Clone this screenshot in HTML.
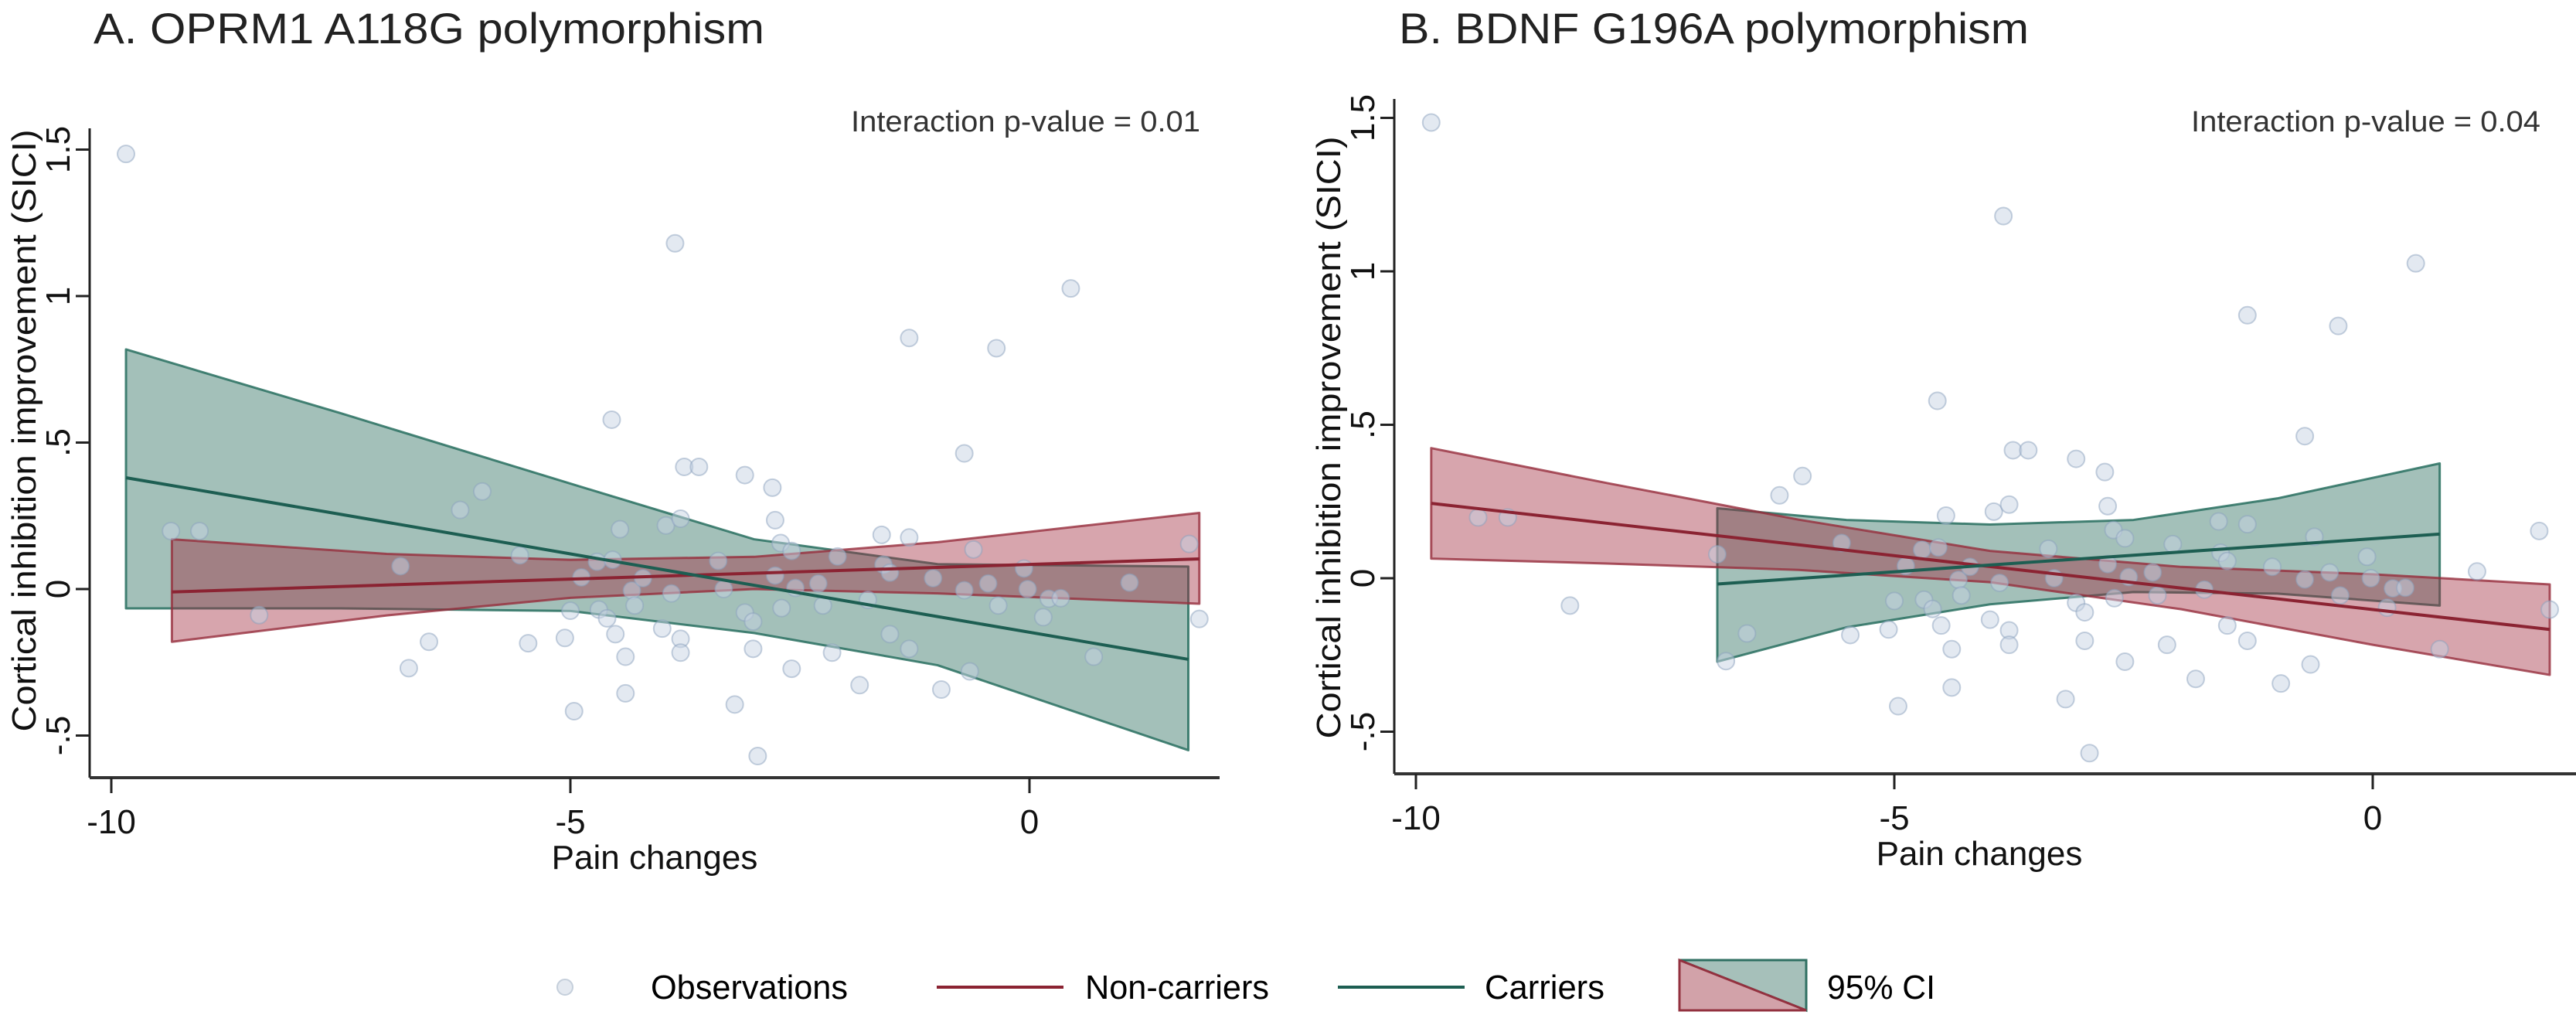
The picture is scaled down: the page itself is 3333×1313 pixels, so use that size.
<!DOCTYPE html>
<html><head><meta charset="utf-8"><style>
html,body{margin:0;padding:0;background:#fff;}
svg{display:block;font-family:"Liberation Sans",sans-serif;}
</style></head><body>
<svg id="chart" width="3333" height="1313" viewBox="0 0 3333 1313" xmlns="http://www.w3.org/2000/svg">
<rect width="3333" height="1313" fill="#fff"/>
<g id="panelA"></g>
<g id="panelB"></g>
<g id="legend">
  <g>
    <circle cx="731" cy="1277" r="10" fill="#e4e9f0" stroke="#c5cfdb" stroke-width="2"/>
    <text x="842" y="1292" font-size="44" textLength="255" lengthAdjust="spacingAndGlyphs">Observations</text>
  </g>
  <g>
    <line x1="1212" y1="1277" x2="1376" y2="1277" stroke="#8b2332" stroke-width="4"/>
    <text x="1404" y="1292" font-size="44" textLength="238" lengthAdjust="spacingAndGlyphs">Non-carriers</text>
  </g>
  <g>
    <line x1="1731" y1="1277" x2="1895" y2="1277" stroke="#1d5e52" stroke-width="4"/>
    <text x="1921" y="1292" font-size="44" textLength="155" lengthAdjust="spacingAndGlyphs">Carriers</text>
  </g>
  <g>
    <polygon points="2173,1242 2337,1242 2337,1307" fill="#a6c0ba" stroke="#2f6f62" stroke-width="3"/>
    <polygon points="2173,1242 2337,1307 2173,1307" fill="#d2a2a9" stroke="#93313f" stroke-width="3"/>
    <text x="2364" y="1292" font-size="44" textLength="140" lengthAdjust="spacingAndGlyphs">95% CI</text>
  </g>
</g>
</svg>
<script>
// Shared observations (pain change, SICI improvement)
const obsX = [-9.84,-9.35,-9.04,-8.39,-6.85,-6.76,-6.54,-6.2,-5.96,-5.55,-5.46,-5.06,-5.0,-4.96,-4.88,-4.71,-4.69,-4.6,-4.55,-4.54,-4.51,-4.46,-4.4,-4.4,-4.33,-4.3,-4.21,-4.0,-3.96,-3.9,-3.86,-3.8,-3.8,-3.8,-3.76,-3.6,-3.39,-3.33,-3.21,-3.1,-3.1,-3.01,-3.01,-2.96,-2.8,-2.77,-2.77,-2.71,-2.7,-2.59,-2.59,-2.55,-2.3,-2.25,-2.15,-2.09,-1.85,-1.76,-1.61,-1.59,-1.52,-1.52,-1.31,-1.31,-1.31,-1.05,-0.96,-0.71,-0.71,-0.65,-0.61,-0.45,-0.36,-0.34,-0.06,-0.02,0.15,0.21,0.34,0.45,0.7,1.09,1.74,1.85];
const obsY = [1.485,0.198,0.198,-0.089,0.078,-0.27,-0.18,0.27,0.333,0.115,-0.185,-0.167,-0.074,-0.417,0.04,0.093,-0.07,-0.10,0.578,0.10,-0.154,0.204,-0.231,-0.356,-0.005,-0.056,0.037,-0.135,0.217,-0.015,1.18,0.24,-0.17,-0.217,0.417,0.417,0.096,0,-0.394,0.389,-0.08,-0.111,-0.204,-0.57,0.346,0.235,0.046,0.157,-0.065,-0.272,0.13,0.004,0.019,-0.056,-0.217,0.111,-0.328,-0.037,0.185,0.083,0.056,-0.154,0.176,0.857,-0.204,0.037,-0.343,-0.004,0.463,-0.281,0.135,0.019,0.822,-0.056,0.07,0,-0.096,-0.033,-0.031,1.026,-0.231,0.022,0.154,-0.102];

// Panel A fits
const aRedX = [-9.34,-7,-5,-3,-1,1.85];
const aRedFit = [-0.01,0.014,0.034,0.054,0.074,0.103];
const aRedUp = [0.17,0.12,0.10,0.11,0.16,0.26];
const aRedLo = [-0.18,-0.09,-0.03,0.0,-0.015,-0.05];
const aGrnX = [-9.84,-7.5,-5,-3,-1,1.73];
const aGrnFit = [0.38,0.255,0.12,0.013,-0.094,-0.24];
const aGrnUp = [0.818,0.60,0.36,0.17,0.085,0.077];
const aGrnLo = [-0.066,-0.066,-0.075,-0.15,-0.26,-0.55];

// Panel B fits
const bRedX = [-9.84,-8,-6,-4,-2,0,1.85];
const bRedFit = [0.244,0.179,0.109,0.038,-0.032,-0.102,-0.167];
const bRedUp = [0.424,0.31,0.191,0.089,0.037,0.013,-0.02];
const bRedLo = [0.064,0.048,0.027,-0.013,-0.101,-0.217,-0.315];
const bGrnX = [-6.85,-5.5,-4,-2.5,-1,0.7];
const bGrnFit = [-0.019,0.01,0.043,0.075,0.107,0.144];
const bGrnUp = [0.228,0.19,0.175,0.19,0.26,0.374];
const bGrnLo = [-0.272,-0.16,-0.085,-0.045,-0.05,-0.089];

const xTicks = [-10,-5,0];
const xTickLabels = ["-10","-5","0"];
const yTicks = [-0.5,0,0.5,1,1.5];
const yTickLabels = ["-.5","0",".5","1","1.5"];

const NS = "http://www.w3.org/2000/svg";
function mk(tag, attrs, parent){
  const e = document.createElementNS(NS, tag);
  for (const k in attrs) e.setAttribute(k, attrs[k]);
  parent.appendChild(e);
  return e;
}

function drawPanel(g, cfg){
  const sx = v => cfg.x0 + (v + 10) * cfg.ux;
  const sy = v => cfg.y0 - v * cfg.uy;

  const title = mk('text', {x: cfg.titleX, y: 56, 'font-size': 56, textLength: cfg.titleLen, lengthAdjust: 'spacingAndGlyphs', fill: '#222'}, g);
  title.textContent = cfg.title;
  
  

  const pv = mk('text', {x: cfg.pvRight, y: 170, 'font-size': 38, 'text-anchor': 'end', textLength: 452, lengthAdjust: 'spacingAndGlyphs', fill: '#333'}, g);
  pv.textContent = cfg.pvalue;
  
  

  function band(xs, up, lo, fill, stroke, name){
    let pts = xs.map((x,i)=>sx(x)+','+sy(up[i]));
    for (let i = xs.length-1; i >= 0; i--) pts.push(sx(xs[i])+','+sy(lo[i]));
    const p = mk('polygon', {points: pts.join(' '), fill: fill, stroke: stroke, 'stroke-width': 3, 'stroke-linejoin': 'round'}, g);
    
    
  }
  function line(xs, ys, color, name){
    const p = mk('polyline', {points: xs.map((x,i)=>sx(x)+','+sy(ys[i])).join(' '), fill: 'none', stroke: color, 'stroke-width': 4}, g);
    
    
  }
  band(cfg.gx, cfg.gu, cfg.gl, 'rgba(50,115,100,0.45)', 'rgba(40,110,95,0.85)', 'carriers-ci-band');
  band(cfg.rx, cfg.ru, cfg.rl, 'rgba(160,40,60,0.42)', 'rgba(150,45,60,0.8)', 'non-carriers-ci-band');

  const pg = mk('g', {}, g);
  
  
  obsX.forEach((x,i)=>{
    const c = mk('circle', {cx: sx(x), cy: sy(obsY[i]), r: 11, fill: 'rgba(200,212,228,0.5)', stroke: 'rgba(140,162,190,0.5)', 'stroke-width': 2}, pg);
    
    
  });

  line(cfg.rx, cfg.rf, '#8b2332', 'non-carriers-fit-line');
  line(cfg.gx, cfg.gf, '#1d5e52', 'carriers-fit-line');

  const ya = mk('line', {x1: cfg.axX, y1: cfg.axTop, x2: cfg.axX, y2: cfg.axBot, stroke: '#222', 'stroke-width': 3}, g);
  
  
  const xa = mk('line', {x1: cfg.axX, y1: cfg.axBot, x2: cfg.axRight, y2: cfg.axBot, stroke: '#333', 'stroke-width': 4}, g);
  
  

  yTicks.forEach((v,i)=>{
    const y = sy(v);
    const t = mk('line', {x1: cfg.axX-18, y1: y, x2: cfg.axX, y2: y, stroke: '#222', 'stroke-width': 3}, g);
    
    
    const lx = cfg.axX - 26;
    const l = mk('text', {x: lx, y: y, 'font-size': 44, 'text-anchor': 'middle', transform: 'rotate(-90 '+lx+' '+y+')', fill: '#111'}, g);
    l.textContent = yTickLabels[i];
    
    
  });
  xTicks.forEach((v,i)=>{
    const x = sx(v);
    const t = mk('line', {x1: x, y1: cfg.axBot, x2: x, y2: cfg.axBot+20, stroke: '#222', 'stroke-width': 3}, g);
    
    
    const l = mk('text', {x: x, y: cfg.axBot+72, 'font-size': 44, 'text-anchor': 'middle', fill: '#111'}, g);
    l.textContent = xTickLabels[i];
    
    
  });

  const xt = mk('text', {x: cfg.xTitleX, y: cfg.axBot+118, 'font-size': 44, 'text-anchor': 'middle', fill: '#111'}, g);
  xt.textContent = 'Pain changes';
  
  
  const yx = cfg.axX - 70, yy = cfg.yTitleY;
  const yt = mk('text', {x: yx, y: yy, 'font-size': 44, 'text-anchor': 'middle', textLength: 779, lengthAdjust: 'spacingAndGlyphs', transform: 'rotate(-90 '+yx+' '+yy+')', fill: '#111'}, g);
  yt.textContent = 'Cortical inhibition improvement (SICI)';
  
  
}

drawPanel(document.getElementById('panelA'), {
  x0: 144, ux: 118.8, y0: 762, uy: 379,
  axX: 116, axTop: 166, axBot: 1006, axRight: 1578,
  title: 'A. OPRM1 A118G polymorphism', titleX: 121, titleLen: 868,
  pvalue: 'Interaction p-value = 0.01', pvRight: 1553,
  xTitleX: 847, yTitleY: 557,
  rx: aRedX, rf: aRedFit, ru: aRedUp, rl: aRedLo,
  gx: aGrnX, gf: aGrnFit, gu: aGrnUp, gl: aGrnLo
});
drawPanel(document.getElementById('panelB'), {
  x0: 1832, ux: 123.8, y0: 748, uy: 397,
  axX: 1804, axTop: 128, axBot: 1001, axRight: 3333,
  title: 'B. BDNF G196A polymorphism', titleX: 1810, titleLen: 815,
  pvalue: 'Interaction p-value = 0.04', pvRight: 3287,
  xTitleX: 2561, yTitleY: 566,
  rx: bRedX, rf: bRedFit, ru: bRedUp, rl: bRedLo,
  gx: bGrnX, gf: bGrnFit, gu: bGrnUp, gl: bGrnLo
});
</script>
</body></html>
